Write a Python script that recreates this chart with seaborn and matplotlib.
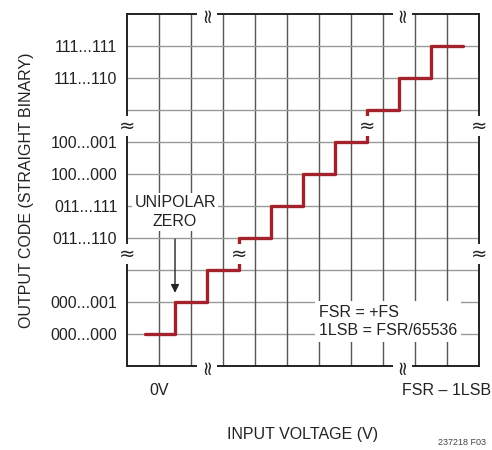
import numpy as np
import pandas as pd
import matplotlib
matplotlib.use('Agg')
import matplotlib.pyplot as plt
import seaborn as sns

# Transfer staircase (grid units): step edges and code levels
step_x = [0.55, 1.5, 2.5, 3.5, 4.5, 5.5, 6.5, 7.5, 8.5, 9.5, 10.5]
step_level = [1, 2, 3, 4, 5, 6, 7, 8, 9, 10]

# y axis codes
code_pos = [1, 2, 4, 5, 6, 7, 9, 10]
code_labels = ['000...000', '000...001', '011...110', '011...111',
               '100...000', '100...001', '111...110', '111...111']

# x axis labels
volt_pos = [1, 10]
volt_labels = ['0V', 'FSR – 1LSB']

# axis break locations
ybreaks = [3.5, 7.5]
xbreaks = [2.5, 8.6]
# staircase breaks (x, y)
stair_breaks = [(3.5, 3.5), (7.5, 7.5)]

sns.set_theme(style='white')
plt.rcParams['font.family'] = ['Liberation Sans', 'DejaVu Sans']

fig = plt.figure(figsize=(4.92, 4.5), dpi=100)
ax = fig.add_axes([127 / 492, 84 / 450, 352 / 492, 352 / 450])

for v in range(1, 11):
    ax.axvline(v, color='#555555', lw=1.0, zorder=1)
    ax.axhline(v, color='#999999', lw=1.0, zorder=1)

# staircase
xs, ys = [], []
for i, lvl in enumerate(step_level):
    xs += [step_x[i], step_x[i + 1]]
    ys += [lvl, lvl]
df = pd.DataFrame({'x': xs, 'y': ys})
sns.lineplot(data=df, x='x', y='y', sort=False, estimator=None, color='#a3212a',
             lw=2.4, ax=ax, zorder=3)

ax.set_xlim(0, 11)
ax.set_ylim(0, 11)
for s in ax.spines.values():
    s.set_color('#222222')
    s.set_linewidth(1.4)
    s.set_zorder(4)

fs = 11.5
ax.set_yticks(code_pos)
ax.set_yticklabels(code_labels, fontsize=fs, color='#222222')
ax.set_xticks(volt_pos)
ax.set_xticklabels(volt_labels, fontsize=fs, color='#222222')
ax.tick_params(axis='y', length=0, pad=7)
ax.tick_params(axis='x', direction='out', length=6, width=1, color='#555555', pad=6)

ax.set_ylabel('OUTPUT CODE (STRAIGHT BINARY)', fontsize=fs, color='#222222', labelpad=12)
ax.set_xlabel('INPUT VOLTAGE (V)', fontsize=fs, color='#222222', labelpad=21)

# break symbols
brk = dict(fontsize=14, color='#222222', ha='center', va='center', zorder=6,
           family='DejaVu Sans')
for yb in ybreaks:
    for xx in [0, 11]:
        ax.text(xx, yb, '≈', bbox=dict(fc='white', ec='none', pad=0.1),
                clip_on=False, **brk)
for xb in xbreaks:
    for yy in [0, 11]:
        ax.text(xb, yy, '≈', rotation=90, bbox=dict(fc='white', ec='none', pad=0.1),
                clip_on=False, **brk)
for bx, by in stair_breaks:
    ax.text(bx, by, '≈', bbox=dict(fc='white', ec='none', pad=0.1), **brk)

# annotations
ax.text(1.5, 4.82, 'UNIPOLAR\nZERO', ha='center', va='center', fontsize=fs,
        color='#222222', linespacing=1.3, zorder=5,
        bbox=dict(fc='white', ec='none', pad=1.5))
ax.annotate('', xy=(1.5, 2.2), xytext=(1.5, 4.05),
            arrowprops=dict(arrowstyle='-|>', color='#222222', lw=1.0,
                            mutation_scale=12), zorder=5)
ax.text(6.0, 1.39, 'FSR = +FS\n1LSB = FSR/65536', ha='left', va='center',
        fontsize=fs, color='#222222', linespacing=1.3, zorder=5,
        bbox=dict(fc='white', ec='none', pad=3))

fig.text(462 / 492, 3 / 450, '237218 F03', fontsize=6.5, ha='center', va='bottom',
         color='#444444')

fig.savefig('out.png', dpi=100)
